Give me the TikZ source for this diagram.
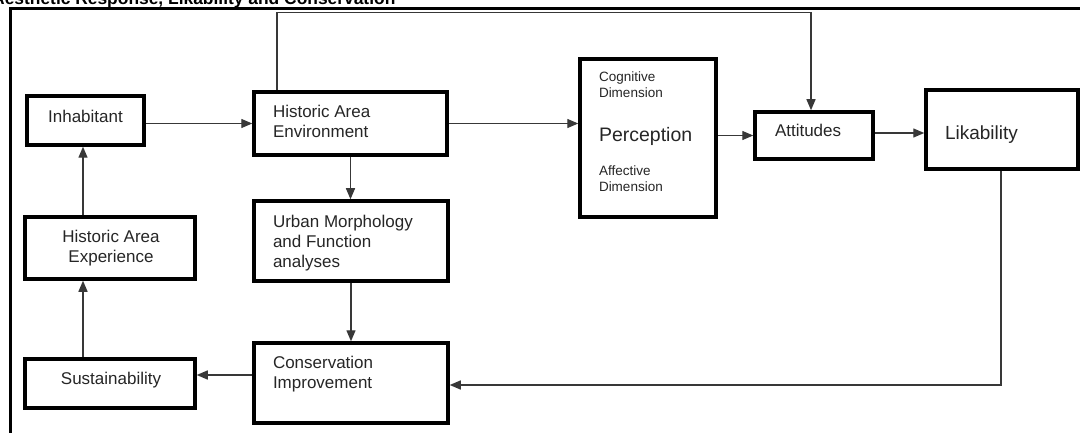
\documentclass[tikz,border=0pt]{standalone}
\usepackage{fontspec}
\setmainfont{Liberation Sans}
\usetikzlibrary{arrows.meta,fit,calc}
\begin{document}
\begin{tikzpicture}[x=1pt,y=-1pt,
  box/.style={draw=black, line width=3.5pt, inner sep=0pt},
  conn/.style={draw=black!78, line width=1.3pt, -{Triangle[length=11pt,width=9pt]}},
  lin/.style={draw=black!78, line width=1.3pt},
  txt/.style={inner sep=0pt, outer sep=0pt, font=\fontsize{17}{20}\selectfont, text=black!85},
  small/.style={inner sep=0pt, outer sep=0pt, font=\fontsize{13.5}{16}\selectfont, text=black!85, align=left},
  frame/.style={draw=black, line width=3pt}]
\useasboundingbox (0,0) rectangle (1080,433);
\fill[white] (0,0) rectangle (1080,433);
\clip (0,0) rectangle (1080,433);

% title and frame
\node[anchor=base west, inner sep=0pt, font=\bfseries\fontsize{17.4}{20}\selectfont] (title) at (-8,5) {Aesthetic Response, Likability and Conservation};
\coordinate (ftl) at (10,9);
\coordinate (fbl) at (10,440);
\coordinate (ftr) at (1090,9);
\draw[frame] (fbl) -- (ftl) -- (ftr);

% boxes
\node[box, fit={(27,96) (144,145)}] (inh) {};
\node[box, fit={(254,92) (447,155)}] (hae) {};
\node[box, fit={(580,59) (716,217)}] (per) {};
\node[box, fit={(755,112) (873,159)}] (att) {};
\node[box, fit={(926,90) (1078,169)}] (lik) {};
\node[box, fit={(254,201) (448,281)}] (urb) {};
\node[box, fit={(254,343) (448,423)}] (con) {};
\node[box, fit={(25,217) (195,279)}] (hex) {};
\node[box, fit={(25,359) (195,408)}] (sus) {};

% texts
\node[txt, anchor=base] (inht) at (85.5,123) {Inhabitant};
\node[txt, anchor=north west, align=left] (haet) at (273,104.7) {Historic Area\\Environment};
\node[txt, anchor=north west, align=left] (urbt) at (273,214.7) {Urban Morphology\\and Function\\analyses};
\node[txt, anchor=north west, align=left] (cont) at (273,355.7) {Conservation\\Improvement};
\node[txt, anchor=north, align=center] (hext) at (111,229.7) {Historic Area\\Experience};
\node[txt, anchor=base] (sust) at (111,384) {Sustainability};
\node[txt, anchor=base west] (attt) at (775,137) {Attitudes};
\node[txt, anchor=base west, font=\fontsize{19}{22}\selectfont] (likt) at (945,140) {Likability};
\node[small, anchor=north west] (cogt) at (599,71.3) {Cognitive\\Dimension};
\node[txt, anchor=base west, font=\fontsize{19.5}{22}\selectfont] (pert) at (599,142) {Perception};
\node[small, anchor=north west] (afft) at (599,165.3) {Affective\\Dimension};

% connectors
\draw[conn] (hae.west -| inh.east) -- (hae.west);
\draw[conn] (hae.east) -- (hae.east -| per.west);
\draw[conn] (att.west -| per.east) -- (att.west);
\draw[conn] ([yshift=2.5pt]att.east) -- ([yshift=2.5pt]att.east -| lik.west);
\coordinate (c1) at (277,12.5);
\coordinate (c2) at (811,12.5);
\draw[conn] (c1 |- hae.north) -- (c1) -- (c2) -- (c2 |- att.north);
\draw[conn] (hae.south) -- (hae.south |- urb.north);
\draw[conn] (urb.south) -- (urb.south |- con.north);
\draw[conn] ([yshift=8pt]con.west) -- ([yshift=8pt]con.west -| sus.east);
\coordinate (vx) at (83,0);
\draw[conn] (sus.north -| vx) -- (hex.south -| vx);
\draw[conn] (hex.north -| vx) -- (inh.south -| vx);
\coordinate (c3) at (1001,385);
\draw[conn] (lik.south -| c3) -- (c3) -- (c3 -| con.east);
\end{tikzpicture}
\end{document}
